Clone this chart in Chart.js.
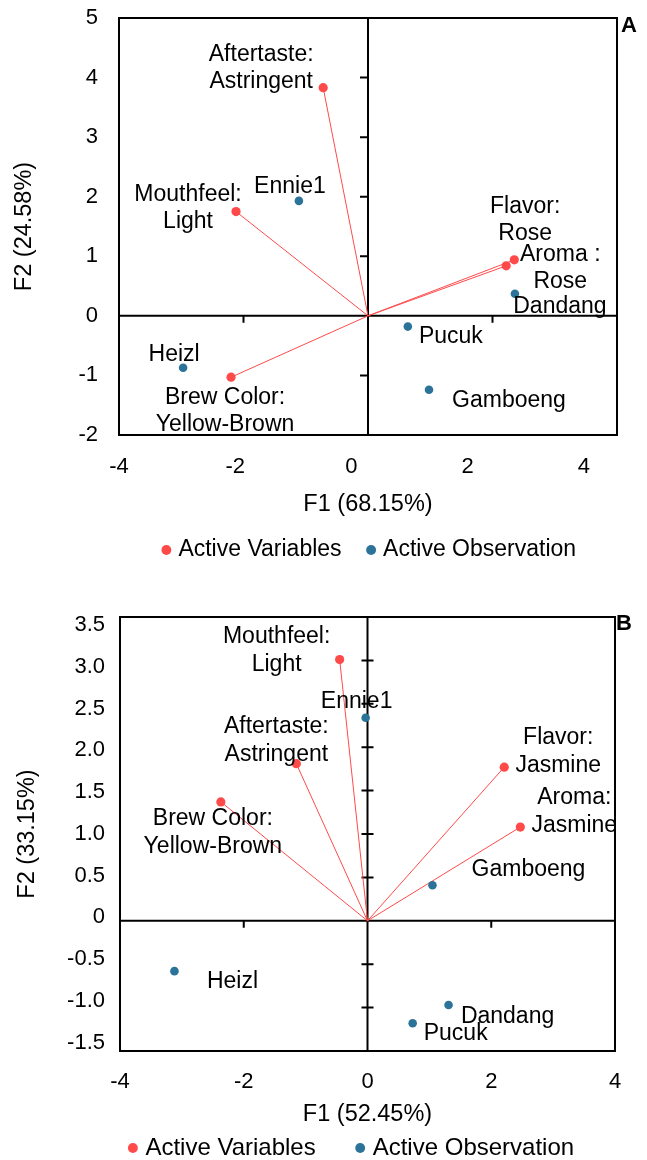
<!DOCTYPE html>
<html>
<head>
<meta charset="utf-8">
<script src="https://cdn.jsdelivr.net/npm/chart.js@4.4.0/dist/chart.umd.min.js"></script>
<style>
html,body{margin:0;padding:0;background:#fff;overflow:hidden;width:647px;height:1160px;}
canvas{position:absolute;left:0;}
#chartA{top:0;}
#chartB{top:580px;}
</style>
</head>
<body>
<canvas id="chartA" width="647" height="580"></canvas>
<canvas id="chartB" width="647" height="600"></canvas>
<script>
// ---------------- DATA : panel A ----------------
const panelA = 'A';
const variableNamesA = [['Aftertaste:', 'Astringent'], ['Mouthfeel:', 'Light'], ['Flavor:', 'Rose'], ['Aroma :', 'Rose'], ['Brew Color:', 'Yellow-Brown']];
const variableF1A = [-0.72, -2.12, 2.22, 2.35, -2.20];
const variableF2A = [3.83, 1.75, 0.84, 0.94, -1.03];
const observationNamesA = ['Ennie1', 'Heizl', 'Dandang', 'Pucuk', 'Gamboeng'];
const observationF1A = [-1.11, -2.97, 2.36, 0.64, 0.98];
const observationF2A = [1.93, -0.87, 0.37, -0.18, -1.24];
const xTickValuesA = [-4, -2, 0, 2, 4];
const xTickLabelsA = ['-4', '-2', '0', '2', '4'];
const yTickValuesA = [-2, -1, 0, 1, 2, 3, 4, 5];
const yTickLabelsA = ['-2', '-1', '0', '1', '2', '3', '4', '5'];
const xTitleA = 'F1 (68.15%)';
const yTitleA = 'F2 (24.58%)';

// ---------------- DATA : panel B ----------------
const panelB = 'B';
const variableNamesB = [['Mouthfeel:', 'Light'], ['Aftertaste:', 'Astringent'], ['Brew Color:', 'Yellow-Brown'], ['Flavor:', 'Jasmine'], ['Aroma:', 'Jasmine']];
const variableF1B = [-0.45, -1.15, -2.37, 2.21, 2.47];
const variableF2B = [3.01, 1.81, 1.37, 1.77, 1.08];
const observationNamesB = ['Ennie1', 'Gamboeng', 'Heizl', 'Dandang', 'Pucuk'];
const observationF1B = [-0.03, 1.05, -3.12, 1.31, 0.73];
const observationF2B = [2.34, 0.41, -0.58, -0.97, -1.18];
const xTickValuesB = [-4, -2, 0, 2, 4];
const xTickLabelsB = ['-4', '-2', '0', '2', '4'];
const yTickValuesB = [-1.5, -1, -0.5, 0, 0.5, 1, 1.5, 2, 2.5, 3, 3.5];
const yTickLabelsB = ['-1.5', '-1.0', '-0.5', '0', '0.5', '1.0', '1.5', '2.0', '2.5', '3.0', '3.5'];
const xTitleB = 'F1 (52.45%)';
const yTitleB = 'F2 (33.15%)';

const legendNames = ['Active Variables', 'Active Observation'];

// ---------------- STYLE ----------------
const FONT = '"Liberation Sans", Arial, Helvetica, sans-serif';
const RED = '#FF4A4A';
const BLUE = '#2B7398';

// label offsets (pixels, relative to the point) – styling only
const varLabelOffsetA = [[-62, -33], [-48, -17], [19, -59], [46, -5], [-6, 20]];
const obsLabelOffsetA = [[-9, -14], [-9, -13], [45, 13], [43, 10], [80, 11]];
const varLabelOffsetB = [[-63, -23], [-20, -37], [-8, 17], [54, -30], [54, -29]];
const obsLabelOffsetB = [[-9, -16], [96, -16], [58, 11], [59, 12], [43, 10]];

const framePlugin = {
  id: 'frame',
  afterLayout(chart, args, o) {
    const lg = chart.legend;
    if (lg && o.legendShift) { lg.left += o.legendShift; lg.right += o.legendShift; }
  },
  beforeDatasetsDraw(chart, args, o) {
    const {ctx, chartArea: a, scales} = chart;
    const x = scales.x, y = scales.y;
    ctx.save();
    ctx.strokeStyle = '#000';
    ctx.lineWidth = 2;
    ctx.strokeRect(a.left, a.top, a.right - a.left, a.bottom - a.top);
    const x0 = x.getPixelForValue(0), y0 = y.getPixelForValue(0);
    ctx.beginPath();
    ctx.moveTo(a.left, y0); ctx.lineTo(a.right, y0);
    ctx.moveTo(x0, a.top); ctx.lineTo(x0, a.bottom);
    o.yTicks.forEach(v => {
      const py = y.getPixelForValue(v);
      ctx.moveTo(x0 - o.yTickLeft, py); ctx.lineTo(x0 + o.yTickRight, py);
    });
    o.xTicks.forEach(v => {
      const px = x.getPixelForValue(v);
      ctx.moveTo(px, y0); ctx.lineTo(px, y0 + o.xTickDown);
    });
    ctx.stroke();
    ctx.restore();
  },
  afterDraw(chart, args, o) {
    const {ctx, chartArea: a} = chart;
    ctx.save();
    ctx.fillStyle = '#000';
    ctx.font = 'bold 22px ' + FONT;
    ctx.textAlign = 'left';
    ctx.textBaseline = 'middle';
    ctx.fillText(o.letter, a.right + o.letterDx, a.top + o.letterDy);
    ctx.restore();
  }
};

const labelPlugin = {
  id: 'pointLabels',
  afterDatasetsDraw(chart, args, o) {
    const {ctx} = chart;
    ctx.save();
    ctx.fillStyle = '#000';
    ctx.font = o.size + 'px ' + FONT;
    ctx.textAlign = 'center';
    ctx.textBaseline = 'middle';
    o.sets.forEach(s => {
      const meta = chart.getDatasetMeta(s.dataset);
      meta.data.forEach((pt, i) => {
        const lines = [].concat(s.names[i]);
        const off = s.offsets[i];
        lines.forEach((t, k) => ctx.fillText(t, pt.x + off[0], pt.y + off[1] + k * o.lineHeight));
      });
    });
    ctx.restore();
  }
};

function buildChart(canvas, s) {
  const vectors = s.varX.map((vx, i) => ({
    label: 'vector', showLine: true,
    data: [{x: 0, y: 0}, {x: vx, y: s.varY[i]}],
    borderColor: RED, borderWidth: 1, pointRadius: 0, pointHoverRadius: 0, fill: false
  }));
  return new Chart(canvas, {
    type: 'scatter',
    data: {
      datasets: [
        {label: legendNames[0], data: s.varX.map((v, i) => ({x: v, y: s.varY[i]})),
         backgroundColor: RED, borderColor: RED, borderWidth: 0, pointRadius: 4.6, pointStyle: 'circle'},
        {label: legendNames[1], data: s.obsX.map((v, i) => ({x: v, y: s.obsY[i]})),
         backgroundColor: BLUE, borderColor: BLUE, borderWidth: 0, pointRadius: 4.3, pointStyle: 'circle'},
        ...vectors
      ]
    },
    options: {
      responsive: false,
      animation: false,
      devicePixelRatio: 1,
      events: [],
      layout: {padding: s.padding},
      scales: {
        x: {type: 'linear', display: false, min: s.xMin, max: s.xMax},
        y: {type: 'linear', display: false, min: s.yMin, max: s.yMax},
        xl: {
          type: 'linear', position: 'bottom', min: s.xlMin, max: s.xlMax,
          grid: {display: false, drawTicks: false}, border: {display: false},
          afterBuildTicks: sc => { sc.ticks = s.xTicks.map(v => ({value: v})); },
          afterFit: sc => { sc.height = s.xlHeight; sc.paddingLeft = 0; sc.paddingRight = 0; sc.paddingTop = 0; sc.paddingBottom = 0; },
          ticks: {autoSkip: false, maxRotation: 0, padding: s.xTickPad, color: '#000',
                  font: {size: s.tickSize, family: FONT},
                  callback: v => s.xTickLabels[s.xTicks.indexOf(v)]},
          title: {display: true, text: s.xTitle, color: '#000', font: {size: s.titleSize, family: FONT},
                  padding: {top: 0, bottom: s.xTitlePad}}
        },
        yl: {
          type: 'linear', position: 'left', min: s.ylMin, max: s.ylMax,
          grid: {display: false, drawTicks: false}, border: {display: false},
          afterBuildTicks: sc => { sc.ticks = s.yTicks.map(v => ({value: v})); },
          afterFit: sc => { sc.width = s.ylWidth; sc.paddingLeft = 0; sc.paddingRight = 0; sc.paddingTop = 0; sc.paddingBottom = 0; },
          ticks: {autoSkip: false, padding: s.yTickPad, color: '#000',
                  font: {size: s.tickSize, family: FONT},
                  callback: v => s.yTickLabels[s.yTicks.indexOf(v)]},
          title: {display: true, text: s.yTitle, color: '#000', font: {size: s.titleSize, family: FONT},
                  padding: {top: s.yTitlePad, bottom: 0}}
        }
      },
      plugins: {
        legend: {
          position: 'bottom', fullSize: s.legendFull,
          labels: {usePointStyle: true, boxWidth: 1, boxHeight: 7, padding: s.legendPad, color: '#000',
                   font: {size: s.legendSize, family: FONT},
                   filter: item => item.datasetIndex < 2}
        },
        tooltip: {enabled: false},
        frame: {letter: s.letter, letterDx: s.letterDx, letterDy: s.letterDy, legendShift: s.legendShift,
                xTicks: s.xTicks, yTicks: s.yTicks, yTickLeft: s.yTickLeft, yTickRight: s.yTickRight, xTickDown: 7},
        pointLabels: {size: s.labelSize, lineHeight: s.lineHeight, sets: [
          {dataset: 0, names: s.varNames, offsets: s.varOffsets},
          {dataset: 1, names: s.obsNames, offsets: s.obsOffsets}
        ]}
      }
    },
    plugins: [framePlugin, labelPlugin]
  });
}

buildChart(document.getElementById('chartA'), {
  letter: panelA, letterDx: 4, letterDy: 8,
  varNames: variableNamesA, varX: variableF1A, varY: variableF2A, varOffsets: varLabelOffsetA,
  obsNames: observationNamesA, obsX: observationF1A, obsY: observationF2A, obsOffsets: obsLabelOffsetA,
  xMin: -4, xMax: 4, yMin: -2, yMax: 5,
  xlMin: -4, xlMax: 4.57, ylMin: -2, ylMax: 5,
  xTicks: xTickValuesA, xTickLabels: xTickLabelsA, yTicks: yTickValuesA, yTickLabels: yTickLabelsA,
  xTitle: xTitleA, yTitle: yTitleA,
  padding: {left: 0, top: 18, right: 30, bottom: 8.5},
  xlHeight: 74.5, ylWidth: 119, xTickPad: 19, yTickPad: 21,
  xTitlePad: -9.6, yTitlePad: 10,
  tickSize: 22, titleSize: 23.5, labelSize: 23, lineHeight: 27,
  legendFull: false, legendPad: 29, legendSize: 23, legendShift: 3,
  yTickLeft: 8, yTickRight: 0
});

buildChart(document.getElementById('chartB'), {
  letter: panelB, letterDx: 1, letterDy: 7,
  varNames: variableNamesB, varX: variableF1B, varY: variableF2B, varOffsets: varLabelOffsetB,
  obsNames: observationNamesB, obsX: observationF1B, obsY: observationF2B, obsOffsets: obsLabelOffsetB,
  xMin: -4, xMax: 4, yMin: -1.5, yMax: 3.5,
  xlMin: -4, xlMax: 4, ylMin: -1.602, ylMax: 3.596,
  xTicks: xTickValuesB, xTickLabels: xTickLabelsB, yTicks: yTickValuesB, yTickLabels: yTickLabelsB,
  xTitle: xTitleB, yTitle: yTitleB,
  padding: {left: 0, top: 37, right: 32, bottom: 10},
  xlHeight: 41, ylWidth: 120, xTickPad: 18, yTickPad: 15,
  xTitlePad: -37.1, yTitlePad: 13,
  tickSize: 22, titleSize: 23.5, labelSize: 23, lineHeight: 28,
  legendFull: true, legendPad: 44, legendSize: 24, legendShift: 45.75,
  yTickLeft: 6, yTickRight: 6
});
</script>
</body>
</html>
